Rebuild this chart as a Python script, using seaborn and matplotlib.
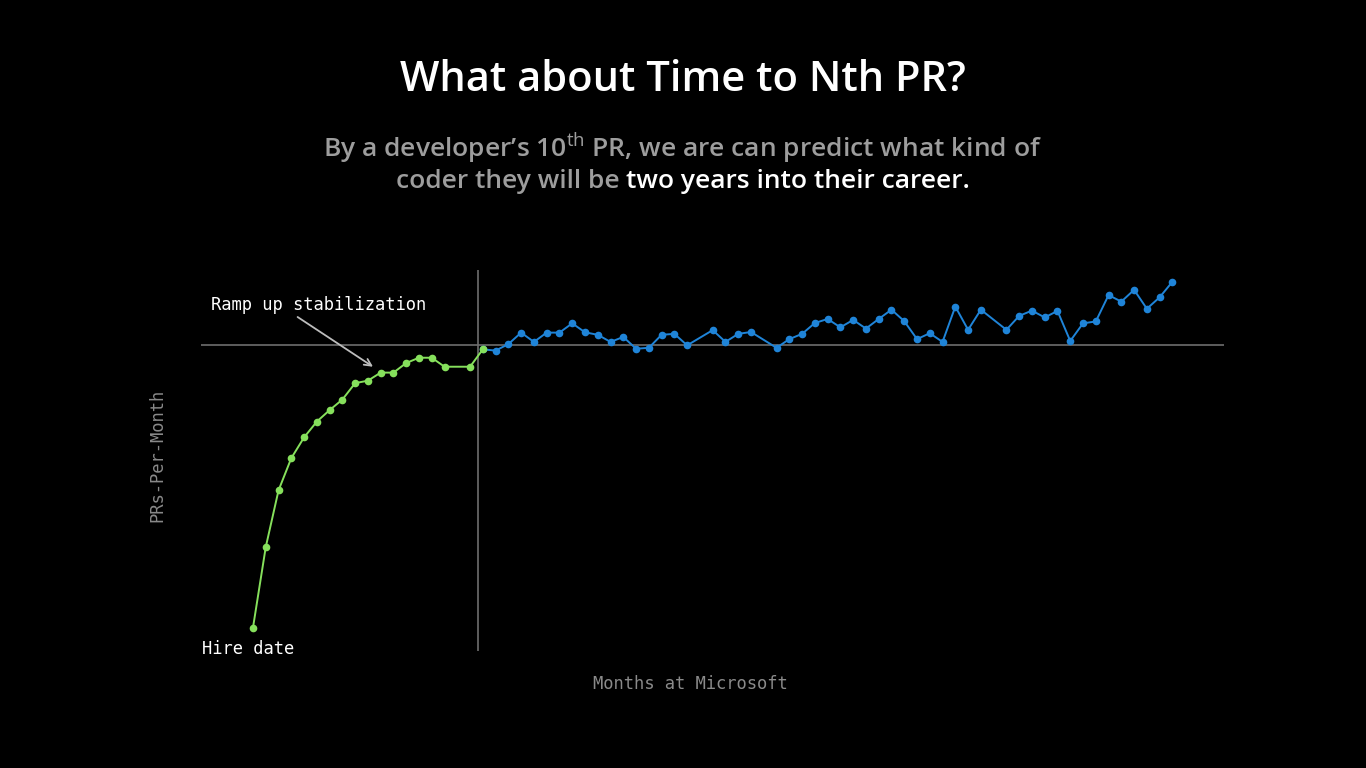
import matplotlib
matplotlib.use('Agg')
import matplotlib.pyplot as plt
import pandas as pd
import seaborn as sns

# months since hire, ramp-up phase (green)
ramp_months = [0, 1, 2, 3, 4, 5, 6, 7, 8, 9, 10, 11, 12, 13, 14, 15, 17, 18]
ramp_prs = [0.88, 3.48, 5.31, 6.35, 7.02, 7.53, 7.90, 8.24, 8.77, 8.85,
            9.11, 9.11, 9.42, 9.59, 9.59, 9.30, 9.30, 9.86]

# after stabilization (blue)
stable_months = [18, 19, 20, 21, 22, 23, 24, 25, 26, 27, 28, 29, 30, 31, 32, 33, 34,
                 36, 37, 38, 39, 41, 42, 43, 44, 45, 46, 47, 48, 49, 50, 51, 52, 53,
                 54, 55, 56, 57, 59, 60, 61, 62, 63, 64, 65, 66, 67, 68, 69, 70, 71, 72]
stable_prs = [9.86, 9.82, 10.03, 10.40, 10.10, 10.40, 10.40, 10.70, 10.41, 10.33,
              10.10, 10.26, 9.88, 9.91, 10.33, 10.36, 9.99,
              10.48, 10.10, 10.36, 10.42, 9.91, 10.19, 10.36, 10.71, 10.84, 10.57,
              10.81, 10.53, 10.84, 11.14, 10.77, 10.19, 10.38,
              10.10, 11.24, 10.49, 11.14, 10.49, 10.94, 11.11, 10.89, 11.10, 10.13,
              10.70, 10.76, 11.61, 11.40, 11.78, 11.17, 11.54, 12.04]

baseline = 10.0
nth_pr_month = 17.6

df = pd.concat([
    pd.DataFrame({'month': stable_months, 'prs': stable_prs, 'phase': 'stable'}),
    pd.DataFrame({'month': ramp_months, 'prs': ramp_prs, 'phase': 'ramp'}),
])

sns.set_style('dark', {'axes.facecolor': 'black', 'figure.facecolor': 'black'})
plt.rcParams['mathtext.fontset'] = 'custom'
plt.rcParams['mathtext.rm'] = 'Open Sans'
plt.rcParams['mathtext.bf'] = 'Open Sans:bold'

fig = plt.figure(figsize=(13.66, 7.68), dpi=100)
fig.patch.set_facecolor('black')
ax = fig.add_axes([201 / 1366, 1 - 651 / 768, 1023 / 1366, 381 / 768])
ax.set_facecolor('black')

ax.axhline(baseline, color='#6e6e6e', lw=1.2, zorder=1)
ax.axvline(nth_pr_month, color='#6e6e6e', lw=1.2, zorder=1)

sns.lineplot(data=df, x='month', y='prs', hue='phase', hue_order=['stable', 'ramp'],
             palette={'stable': '#1f84d8', 'ramp': '#86e05c'}, estimator=None,
             marker='o', markersize=5.5, markeredgewidth=0, linewidth=1.4,
             legend=False, ax=ax, zorder=3)

ax.set_xlim(-4.07, 76.04)
ax.set_ylim(0.13, 12.42)
ax.set_xticks([])
ax.set_yticks([])
ax.set_xlabel('')
ax.set_ylabel('')
for s in ax.spines.values():
    s.set_visible(False)

mono = 'DejaVu Sans Mono'
ax.annotate('Ramp up stabilization', xy=(9.4, 9.3), xytext=(-3.3, 11.3),
            color='white', fontsize=12.3, family=mono, va='center', ha='left',
            arrowprops=dict(arrowstyle='->', color='#bdbdbd', lw=1.3,
                            shrinkA=0, shrinkB=0, relpos=(0.38, 0)))
ax.text(-4.0, 0.2, 'Hire date', color='white', fontsize=12.3, family=mono,
        va='center', ha='left')

fig.text(690 / 1366, 1 - 684 / 768, 'Months at Microsoft', color='#8a8a8a',
         fontsize=12.3, family=mono, ha='center', va='center')
fig.text(157 / 1366, 1 - 455 / 768, 'PRs-Per-Month', color='#8a8a8a',
         fontsize=12.3, family=mono, ha='center', va='center', rotation=90)

fig.text(0.5, 1 - 80 / 768, 'What about Time to Nth PR?', color='white',
         fontsize=30, family='Open Sans', weight='semibold', ha='center', va='center')

gray = '#9d9d9d'
fig.text(0.5, 1 - 148 / 768,
         r"By a developer’s 10$^{\mathrm{th}}$ PR, we are can predict what kind of",
         color=gray, fontsize=19, family='Open Sans', weight='semibold',
         ha='center', va='center')

# second line: gray start, white end, centred together
t1 = fig.text(0, 1 - 182 / 768, 'coder they will be ', color=gray, fontsize=19,
              family='Open Sans', weight='semibold', ha='left', va='center')
t2 = fig.text(0, 1 - 182 / 768, 'two years into their career.', color='white',
              fontsize=19, family='Open Sans', weight='semibold', ha='left', va='center')
fig.canvas.draw()
r = fig.canvas.get_renderer()
w1 = t1.get_window_extent(r).width
w2 = t2.get_window_extent(r).width
x0 = (1366 - w1 - w2) / 2
t1.set_x(x0 / 1366)
t2.set_x((x0 + w1) / 1366)

fig.savefig('out.png', dpi=100, facecolor='black')
